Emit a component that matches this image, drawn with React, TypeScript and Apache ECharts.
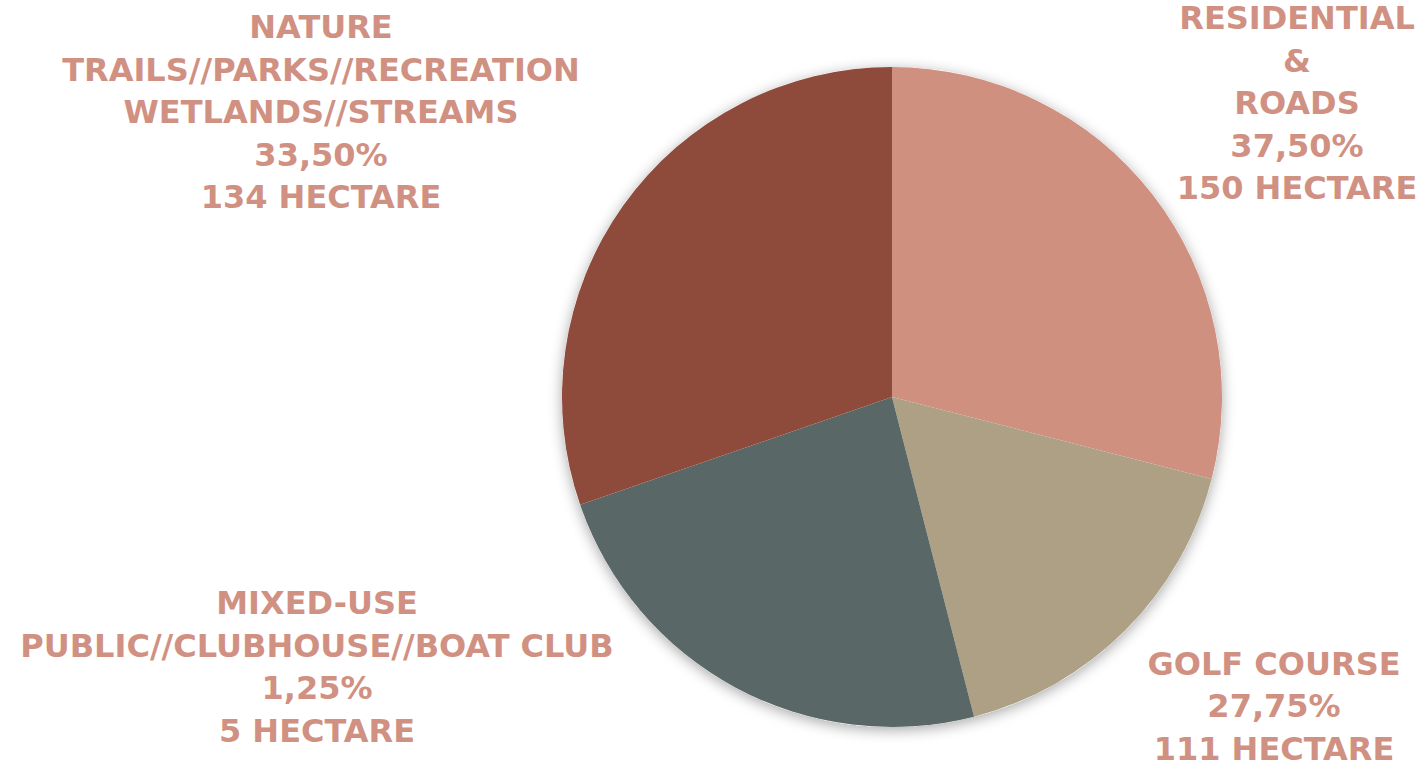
import React, { useEffect, useRef } from "react";
import * as echarts from "echarts";

const categories = [
  "RESIDENTIAL\n&\nROADS",
  "GOLF COURSE",
  "MIXED-USE\nPUBLIC//CLUBHOUSE//BOAT CLUB",
  "NATURE\nTRAILS//PARKS//RECREATION\nWETLANDS//STREAMS",
];
// slice shares as drawn in the picture (angles)
const sliceShares = [29.0, 17.0, 23.7, 30.3];
const percentLabels = ["37,50%", "27,75%", "1,25%", "33,50%"];
const hectares = [150, 111, 5, 134];
const colors = ["#D09080", "#ADA084", "#5A6767", "#8E4A3A"];

const labelPos = [
  { x: 1297, y: 103 },
  { x: 1274, y: 706 },
  { x: 317, y: 667 },
  { x: 321, y: 112 },
];

export default function App() {
  const ref = useRef<HTMLDivElement>(null);
  useEffect(() => {
    if (!ref.current) return;
    const chart = echarts.init(ref.current, undefined, { renderer: "svg" });
    const total = sliceShares.reduce((a, b) => a + b, 0);
    chart.setOption({
      animation: false,
      backgroundColor: "#ffffff",
      series: [
        {
          // shadow disc behind the pie
          type: "pie",
          center: [892, 397],
          radius: 330,
          silent: true,
          z: 1,
          label: { show: false },
          labelLine: { show: false },
          data: [{ name: "", value: total }],
          itemStyle: {
            color: "#ffffff",
            shadowBlur: 14,
            shadowColor: "rgba(0,0,0,0.35)",
            shadowOffsetY: 3,
          },
          emphasis: { disabled: true },
        },
        {
          type: "pie",
          center: [892, 397],
          radius: 330,
          startAngle: 90,
          clockwise: true,
          z: 2,
          avoidLabelOverlap: false,
          data: categories.map((name, i) => ({
            name,
            value: sliceShares[i],
            itemStyle: { color: colors[i] },
          })),
          itemStyle: { borderWidth: 0 },
          label: {
            show: true,
            position: "outside",
            formatter: (p: any) =>
              `${p.name}\n${percentLabels[p.dataIndex]}\n${hectares[p.dataIndex]} HECTARE`,
            color: "#D09182",
            fontFamily: "DejaVu Sans",
            fontWeight: "bold",
            fontSize: 32,
            lineHeight: 42.5,
            align: "center",
          },
          labelLine: { show: false },
          labelLayout: (params: any) => ({
            x: labelPos[params.dataIndex].x,
            y: labelPos[params.dataIndex].y,
            align: "center",
            verticalAlign: "middle",
            hideOverlap: false,
          }),
          emphasis: { disabled: true },
        },
      ],
    });
    return () => chart.dispose();
  }, []);
  return (
    <div
      ref={ref}
      style={{ position: "fixed", left: 0, top: 0, width: 1423, height: 767 }}
    />
  );
}
